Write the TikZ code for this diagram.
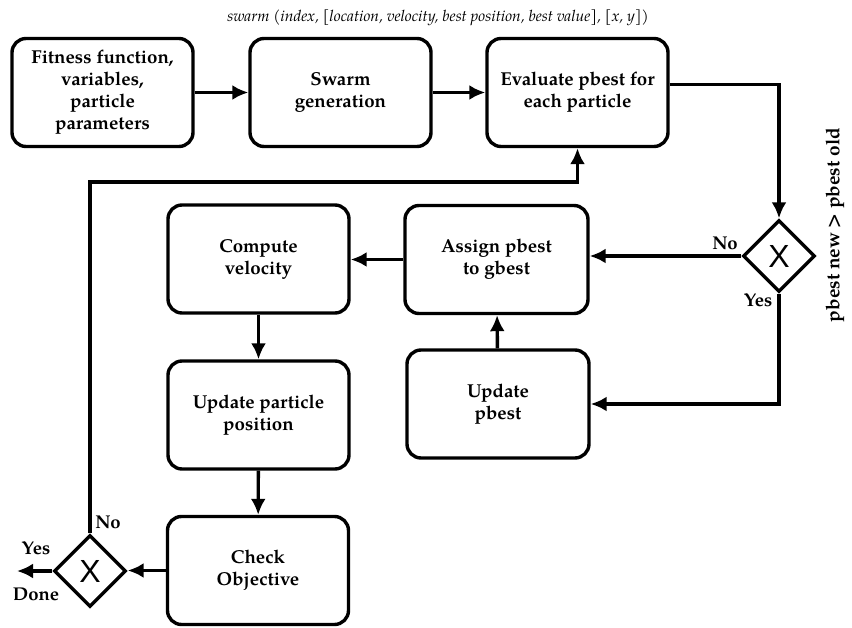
\documentclass[tikz,border=0pt]{standalone}
\usepackage{fontspec}
\setmainfont{TeX Gyre Pagella}
\setsansfont{Liberation Sans}
\usetikzlibrary{arrows.meta,shapes.geometric}

\begin{document}
\begin{tikzpicture}[x=1pt,y=-1pt,
  box/.style={draw, line width=3.4pt, rounded corners=14pt, minimum width=181pt,
    minimum height=108pt, align=center, font=\fontsize{18.7}{22}\selectfont\bfseries},
  decision/.style={draw, diamond, line width=3.4pt, minimum width=72pt,
    minimum height=72pt, inner sep=0pt, font=\fontsize{32}{32}\selectfont\sffamily},
  flow/.style={line width=3.4pt, -{Latex[length=16pt,width=15pt]}},
  lbl/.style={font=\fontsize{18.5}{18.5}\selectfont\bfseries, inner sep=0pt}]
\useasboundingbox (0,0) rectangle (852,628);

% top row
\node[box] (fit)   at (102.5,92.5) {Fitness function,\\variables,\\particle\\parameters};
\node[box] (swarm) at (340.5,92.5) {Swarm\\generation};
\node[box] (eval)  at (577.5,92.5) {Evaluate pbest for\\each particle};
\node[font=\fontsize{15.6}{15.6}\selectfont\itshape] (caption) at (438,18)
  {swarm (index, [location, velocity, best position, best value], [x, y])};

% pbest comparison
\node[decision] (dec1) at (779,256) {X};
\node[rotate=90, font=\fontsize{19}{19}\selectfont\bfseries] (cond) at (835,225) {pbest new > pbest old};
\node[box, minimum width=183pt] (assign) at (496.5,259.5) {Assign pbest\\to gbest};
\node[box, minimum width=182pt] (updp)   at (498,404) {Update\\pbest};

% particle update column
\node[box] (vel) at (258.5,259) {Compute\\velocity};
\node[box] (pos) at (258.5,415) {Update particle\\position};
\node[box] (chk) at (258,570.5) {Check\\Objective};
\node[decision] (dec2) at (90,571) {X};
\coordinate (done) at (17,571);
\coordinate (turn) at (577.5,182);

% connectors
\draw[flow] (fit) -- (swarm);
\draw[flow] (swarm) -- (eval);
\draw[flow] ([yshift=8pt]eval.east) -| (dec1.north);
\draw[flow] (dec1.west) -- (dec1.west -| assign.east);
\draw[flow] (dec1.south) |- (updp.east);
\draw[flow] (updp) -- (assign);
\draw[flow] (assign.west) -- (assign.west -| vel.east);
\draw[flow] (vel) -- (pos);
\draw[flow] (pos) -- (chk);
\draw[flow] (chk.west) -- (chk.west -| dec2.east);
\draw[flow] (dec2.west) -- (done);
\draw[flow] (dec2.north) |- (turn) -- (eval.south);

% branch labels
\node[lbl] (no1)  at (725,243) {No};
\node[lbl] (yes1) at (758,300) {Yes};
\node[lbl] (no2)  at (108,522) {No};
\node[lbl] (yes2) at (36,548) {Yes};
\node[lbl] (dn)   at (36,594) {Done};
\end{tikzpicture}
\end{document}
